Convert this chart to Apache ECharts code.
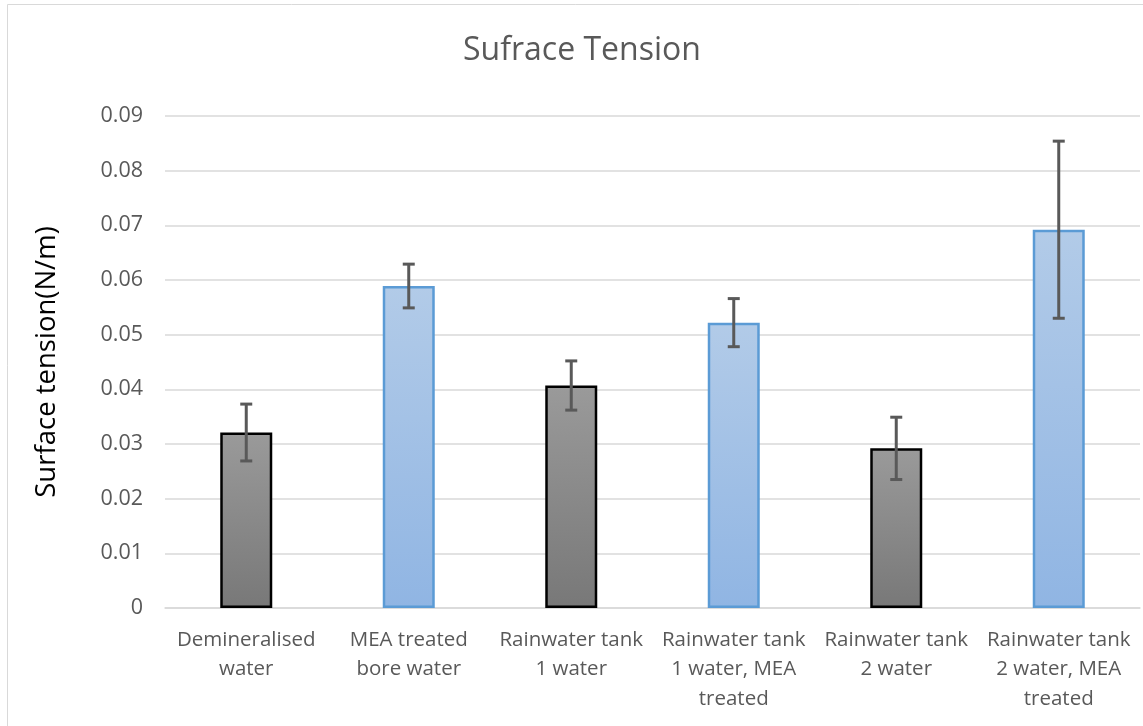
<!DOCTYPE html>
<html><head><meta charset="utf-8">
<script src="https://cdn.jsdelivr.net/npm/echarts@6/dist/echarts.min.js"></script>
<style>html,body{margin:0;padding:0;background:#fff}#c{width:1143px;height:726px}</style>
</head><body><div id="c"></div>
<script>
const categories = ["Demineralised\nwater", "MEA treated\nbore water", "Rainwater tank\n1 water", "Rainwater tank\n1 water, MEA\ntreated", "Rainwater tank\n2 water", "Rainwater tank\n2 water, MEA\ntreated"];
const values = [0.0321, 0.0589, 0.0407, 0.0522, 0.0292, 0.0692];
const errors = [0.0052, 0.0040, 0.0045, 0.0044, 0.0057, 0.0162];
const meaTreated = [false, true, false, true, false, true];
const yTicks = [0, 0.01, 0.02, 0.03, 0.04, 0.05, 0.06, 0.07, 0.08, 0.09];

const FONT = 'Open Sans';
const grayStyle = {
  color: {type:'linear', x:0, y:0, x2:0, y2:1, colorStops:[{offset:0,color:'#9a9a9a'},{offset:1,color:'#787878'}]},
  borderColor: '#000', borderWidth: 2.5
};
const blueStyle = {
  color: {type:'linear', x:0, y:0, x2:0, y2:1, colorStops:[{offset:0,color:'#b2cbe8'},{offset:1,color:'#90b5e3'}]},
  borderColor: '#5b9bd5', borderWidth: 2.5
};

const chart = echarts.init(document.getElementById('c'), null, {renderer:'canvas'});
chart.setOption({
  backgroundColor: '#fff',
  animation: false,
  graphic: [{type:'rect', shape:{x:7.5, y:4.5, width:1140, height:730}, style:{fill:'none', stroke:'#d9d9d9', lineWidth:1}}],
  title: {text:'Sufrace Tension', left:458, top:30, textStyle:{fontFamily:FONT, fontSize:32, fontWeight:'normal', color:'#595959'}},
  grid: {left:165, right:3, top:116, bottom:118},
  xAxis: {
    type:'category', data:categories,
    axisLine:{show:true, lineStyle:{color:'#d9d9d9', width:1.5}},
    axisTick:{show:false},
    axisLabel:{fontFamily:FONT, fontSize:20.5, color:'#595959', lineHeight:29.5, margin:17, interval:0}
  },
  yAxis: {
    type:'value', min:0, max:0.09, interval:0.01,
    name:'Surface tension(N/m)', nameLocation:'middle', nameGap:104, nameRotate:90,
    nameTextStyle:{fontFamily:FONT, fontSize:27.5, color:'#000'},
    axisLine:{show:false}, axisTick:{show:false},
    axisLabel:{fontFamily:FONT, fontSize:21.5, color:'#595959', margin:22, formatter: v => String(+v.toFixed(2))},
    splitLine:{lineStyle:{color:'#d9d9d9', width:1.5}}
  },
  series: [
    {type:'bar', barWidth:'32%',
     data: values.map((v,i) => ({value:v, itemStyle: meaTreated[i] ? blueStyle : grayStyle}))},
    {type:'custom', z:10,
     data: values.map((v,i) => [i, v, errors[i]]),
     renderItem: function(params, api){
       const i = api.value(0), v = api.value(1), e = api.value(2);
       const top = api.coord([i, v+e]), bot = api.coord([i, v-e]);
       const hw = 6;
       const st = {stroke:'#595959', lineWidth:3};
       return {type:'group', children:[
         {type:'line', shape:{x1:top[0], y1:top[1], x2:bot[0], y2:bot[1]}, style:st},
         {type:'line', shape:{x1:top[0]-hw, y1:top[1], x2:top[0]+hw, y2:top[1]}, style:st},
         {type:'line', shape:{x1:bot[0]-hw, y1:bot[1], x2:bot[0]+hw, y2:bot[1]}, style:st}
       ]};
     }}
  ]
});
</script></body></html>
